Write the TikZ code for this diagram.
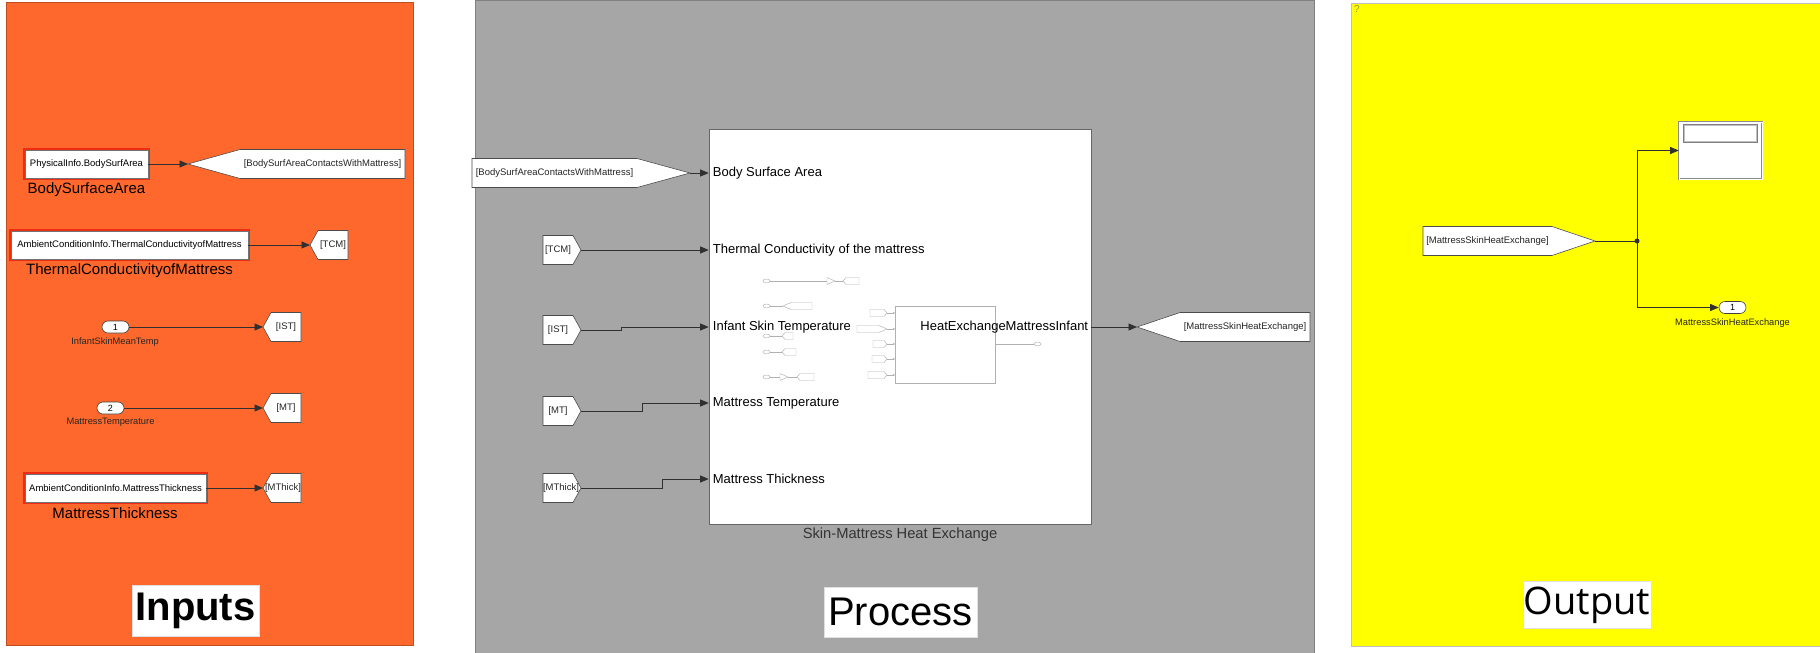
\documentclass[tikz,border=0pt]{standalone}
\usepackage{fontspec}
\setmainfont{Liberation Sans}
\newfontfamily\outfont{Open Sans}
\usetikzlibrary{arrows.meta,calc}
\newcommand\sz[1]{\fontsize{#1}{#1}\selectfont}

\definecolor{inorange}{HTML}{FE682C}
\definecolor{procgray}{HTML}{A6A6A6}
\definecolor{outyellow}{HTML}{FFFF00}
\definecolor{wire}{HTML}{303030}
\definecolor{faint}{HTML}{B0B0B0}
\definecolor{glow}{HTML}{E8180C}

\tikzset{
  wireline/.style={draw=wire, line width=0.8pt},
  sig/.style={wireline, -{Triangle[length=8.5pt,width=7pt]}},
  blockbox/.style={draw=black!60, fill=white, line width=0.6pt, inner sep=0pt},
  constbox/.style={blockbox, draw=black!55, minimum height=28pt, font=\sz{9.5},
    preaction={draw=glow, line width=4pt, opacity=0.75}},
  tagline/.style={draw=black!70, fill=white, line width=0.6pt},
  tagtext/.style={font=\sz{9.5}, inner sep=0pt, text=black!85},
  portbox/.style={draw=black!75, fill=white, line width=0.6pt, rounded corners=6pt,
    minimum width=27pt, minimum height=12pt, inner sep=0pt, font=\sz{9}},
  biglabel/.style={font=\sz{15}, inner sep=0pt},
  smalllabel/.style={font=\sz{9.3}, inner sep=0pt, text=black!85},
  portlabel/.style={font=\sz{13}, inner sep=0pt},
  sublabel/.style={font=\sz{14.7}, inner sep=0pt, text=black!80},
  titlebox/.style={fill=white, draw=black!12, inner sep=0pt},
  mini/.style={draw=faint, line width=0.45pt},
  minisig/.style={mini, -{Triangle[length=2pt,width=2pt]}},
}

% goto tag pointing west: name, tip, slant, total width, text, text shift
\newcommand\tagW[6]{%
  \coordinate (#1) at (#2);
  \path[tagline] (#1) -- ++(#3,-14.5) -- ++(#4-#3,0) -- ++(0,29) -- ++(#3-#4,0) -- cycle;
  \path (#1) ++({(#3+#4)/2+#6},0) node[tagtext] (#1-txt) {#5};}
% from tag pointing east
\newcommand\tagE[6]{%
  \coordinate (#1) at (#2);
  \path[tagline] (#1) -- ++(-#3,-14.5) -- ++(#3-#4,0) -- ++(0,29) -- ++(#4-#3,0) -- cycle;
  \path (#1) ++({-(#3+#4)/2+#6},0) node[tagtext] (#1-txt) {#5};}
% thumbnail pieces inside the subsystem icon
\newcommand\miniW[4]{\draw[mini] (#1,#2) -- ++(#4,-3.5) -- ++(#3-#4,0) -- ++(0,7) -- ++(#4-#3,0) -- cycle;}
\newcommand\miniE[4]{\draw[mini] (#1,#2) -- ++(-#4,-3.5) -- ++(#4-#3,0) -- ++(0,7) -- ++(#3-#4,0) -- cycle;}
\newcommand\minioval[2]{\draw[mini] (#1,#2) ellipse (3.5 and 2);}
\newcommand\minigain[2]{\draw[mini] (#1,#2-3.5) -- ++(8,3.5) -- ++(-8,3.5) -- cycle;}

\begin{document}
\begin{tikzpicture}[x=1pt,y=-1pt]
\useasboundingbox (0,0) rectangle (1820,653);
\clip (0,0) rectangle (1820,653);

% ---------- area backgrounds ----------
\path[fill=inorange, draw=inorange!75!black, line width=0.6pt] (6,2) rectangle (413,645);
\path[fill=procgray, draw=black!50, line width=0.6pt] (475,0.5) rectangle (1314,660);
\path[fill=outyellow, draw=black!25, line width=0.6pt] (1351,3) rectangle (1830,646);

\node[titlebox, minimum width=127pt, minimum height=51pt] (ttlIn) at (195.5,610.5) {\sz{40}\bfseries Inputs};
\node[titlebox, minimum width=153pt, minimum height=50pt] (ttlPr) at (900.5,612) {\sz{40}Process};
\node[titlebox, minimum width=128pt, minimum height=47pt] (ttlOut) at (1587,605) {\outfont\sz{38}Output};

% ---------- Inputs ----------
\node[constbox, minimum width=123pt] (bBSA) at (86.5,164) {PhysicalInfo.BodySurfArea};
\node[biglabel] (lBSA) at (86.5,190) {BodySurfaceArea};
\tagW{tBSAin}{188,164}{52}{217}{[BodySurfAreaContactsWithMattress]}{0}
\draw[sig] (bBSA.east) -- (tBSAin);

\node[constbox, minimum width=237pt] (bTCM) at (129.5,245) {AmbientConditionInfo.ThermalConductivityofMattress};
\node[biglabel] (lTCM) at (129.5,271) {ThermalConductivityofMattress};
\tagW{tTCMin}{310,245}{8}{38}{[TCM]}{0}
\draw[sig] (bTCM.east) -- (tTCMin);

\node[portbox] (iIST) at (115.5,327) {1};
\node[smalllabel] (lIST) at (115,342) {InfantSkinMeanTemp};
\tagW{tISTin}{263,327}{8}{38}{[IST]}{0}
\draw[sig] (iIST.east) -- (tISTin);

\node[portbox] (iMT) at (110.5,408) {2};
\node[smalllabel] (lMT) at (110.5,422) {MattressTemperature};
\tagW{tMTin}{263,408}{8}{38}{[MT]}{0}
\draw[sig] (iMT.east) -- (tMTin);

\node[constbox, minimum width=181pt] (bMTh) at (115.5,488) {AmbientConditionInfo.MattressThickness};
\node[biglabel] (lMTh) at (115,513) {MattressThickness};
\tagW{tMThin}{263,488}{8}{38}{[MThick]}{-3}
\draw[sig] (bMTh.east) -- (tMThin);

% ---------- Process ----------
\node[blockbox, minimum width=382pt, minimum height=395pt] (bSub) at (900,326.5) {};
\coordinate (p1) at (bSub.west |- 0,173);
\coordinate (p2) at (bSub.west |- 0,250);
\coordinate (p3) at (bSub.west |- 0,327);
\coordinate (p4) at (bSub.west |- 0,403);
\coordinate (p5) at (bSub.west |- 0,479);
\coordinate (po) at (bSub.east |- 0,327);

% thumbnail of the subsystem contents
\minioval{766.5}{281} \draw[mini] (770,281) -- (827,281); \minigain{827}{281}
\draw[mini] (835,281) -- (843,281); \miniW{843}{281}{16}{3}
\minioval{766.5}{306} \draw[mini] (770,306) -- (783,306); \miniW{783}{306}{29}{8}
\minioval{766.5}{336} \draw[mini] (770,336) -- (782,336); \miniW{782}{336}{11}{3}
\minioval{766.5}{352} \draw[mini] (770,352) -- (782,352); \miniW{782}{352}{14}{3}
\minioval{766.5}{377} \draw[mini] (770,377) -- (780,377); \minigain{780}{377}
\draw[mini] (788,377) -- (797,377); \miniW{797}{377}{17}{3}
\miniE{887}{313}{17}{3} \draw[minisig] (887,313) -- (895,313);
\miniE{887}{329}{30}{8} \draw[minisig] (887,329) -- (895,329);
\miniE{887}{344}{14}{3} \draw[minisig] (887,344) -- (895,344);
\miniE{887}{359}{15}{3} \draw[minisig] (887,359) -- (895,359);
\miniE{887}{375}{19}{3} \draw[minisig] (887,375) -- (895,375);
\draw[mini] (895,306) rectangle (995,383);
\draw[mini] (995,344) -- (1034,344); \minioval{1037.5}{344}

\node[portlabel, anchor=west] (lp1) at ([xshift=4pt]p1) {Body Surface Area};
\node[portlabel, anchor=west] (lp2) at ([xshift=4pt]p2) {Thermal Conductivity of the mattress};
\node[portlabel, anchor=west] (lp3) at ([xshift=4pt]p3) {Infant Skin Temperature};
\node[portlabel, anchor=west] (lp4) at ([xshift=4pt]p4) {Mattress Temperature};
\node[portlabel, anchor=west] (lp5) at ([xshift=4pt]p5) {Mattress Thickness};
\node[portlabel, anchor=east] (lpo) at ([xshift=-3pt]po) {HeatExchangeMattressInfant};
\node[sublabel] (lSub) at (900,535) {Skin-Mattress Heat Exchange};

\tagE{tBSApr}{690,173}{53}{218}{[BodySurfAreaContactsWithMattress]}{0}
\draw[sig] (tBSApr) -- (p1);
\tagE{tTCMpr}{581,250}{8}{38}{[TCM]}{0}
\draw[sig] (tTCMpr) -- (p2);
\tagE{tISTpr}{581,330}{8}{38}{[IST]}{0}
\draw[sig] (tISTpr) -- ++(40,0) |- (p3);
\tagE{tMTpr}{581,411}{8}{38}{[MT]}{0}
\draw[sig] (tMTpr) -- ++(61,0) |- (p4);
\tagE{tMThpr}{581,488}{8}{38}{[MThick]}{3}
\draw[sig] (tMThpr) -- ++(81,0) |- (p5);

\tagW{tMSHEpr}{1137,327}{43}{173}{[MattressSkinHeatExchange]}{0}
\draw[sig] (po) -- (tMSHEpr);

% ---------- Output ----------
\node[font=\sz{10}, text=yellow!55!black, inner sep=0pt] (qmark) at (1357,9) {?};
\tagE{tMSHEout}{1595,241}{43}{172}{[MattressSkinHeatExchange]}{0}
\coordinate (jn) at (1637,241);
\node[blockbox, draw=black!45, double=white, double distance=1pt, minimum width=83pt, minimum height=57pt] (disp) at (1720.5,150.5) {};
\node[draw=black!50, fill=white, line width=0.8pt, minimum width=74pt, minimum height=18pt, inner sep=0pt] (dispwin) at (1720.5,133.5) {};
\draw[black!25, line width=0.5pt] ([shift={(1.5pt,1.5pt)}]dispwin.south west) rectangle ([shift={(-1.5pt,-1.5pt)}]dispwin.north east);
\node[portbox] (out1) at (1732.5,307.5) {1};
\node[smalllabel] (lout1) at (1732.5,323) {MattressSkinHeatExchange};
\draw[wireline] (tMSHEout) -- (jn);
\draw[sig] (jn) |- (disp.west);
\draw[sig] (jn) |- (out1.west);
\fill[wire] (jn) circle (2.5);
\end{tikzpicture}
\end{document}
